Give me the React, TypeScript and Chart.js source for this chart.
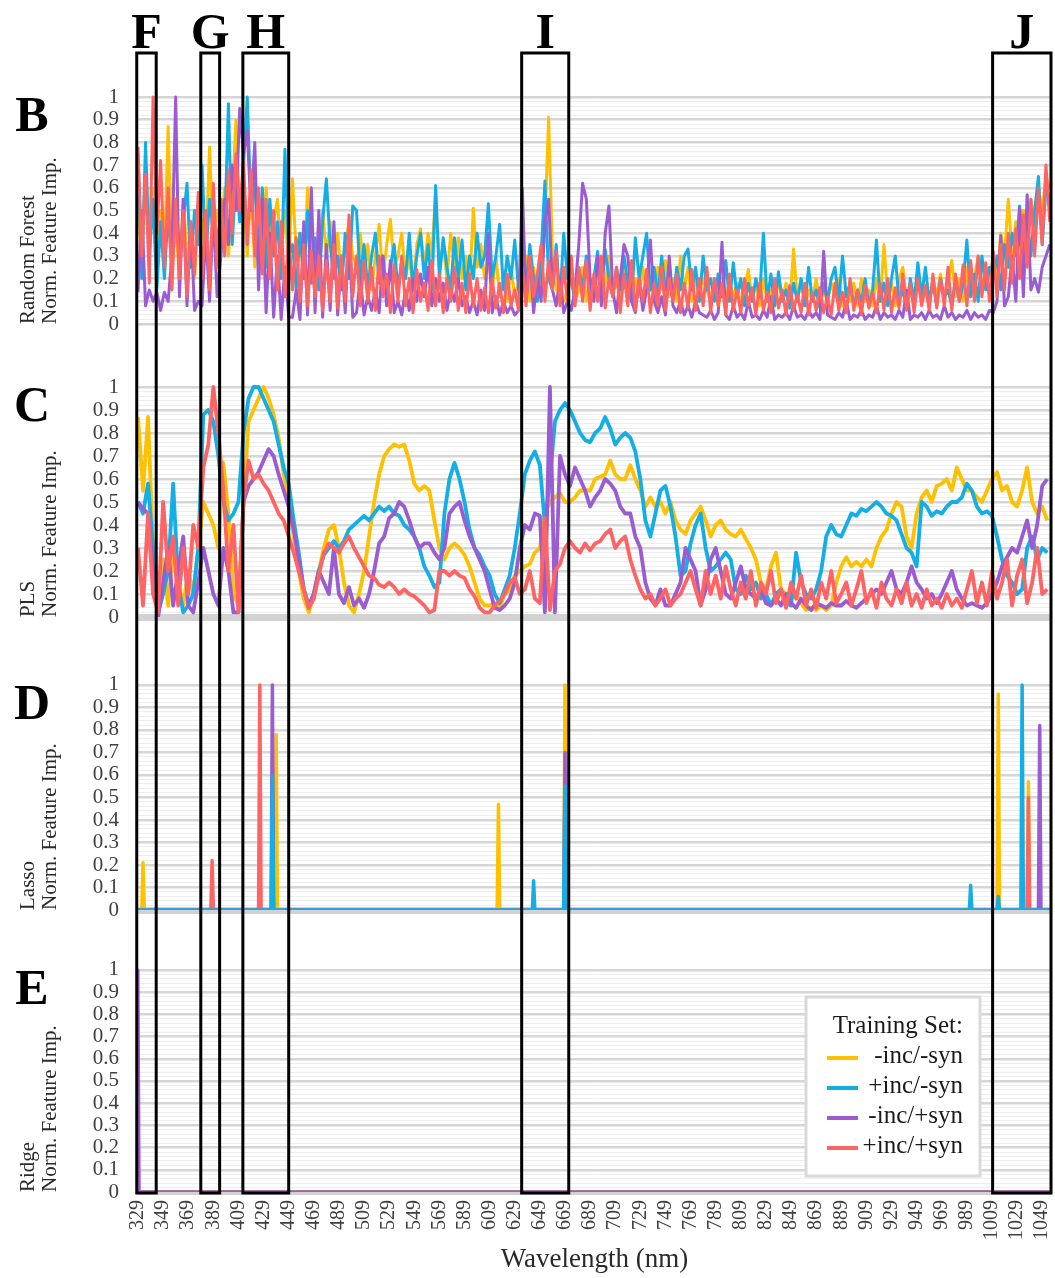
import React, { useEffect, useRef } from 'react';
import { Chart, registerables } from 'chart.js';

Chart.register(...registerables);

const FONT = "'Liberation Serif', 'Times New Roman', Times, serif";

// ---------- labels / categories ----------
const SERIES_NAMES = ['-inc/-syn', '+inc/-syn', '-inc/+syn', '+inc/+syn'];
const SERIES_COLORS = ['#FFC000', '#14AEE6', '#9B5BD1', '#FF6464'];
const X_MIN = 329;
const X_MAX = 1056;
const X_TICKS = [329, 349, 369, 389, 409, 429, 449, 469, 489, 509, 529, 549, 569, 589, 609, 629, 649, 669, 689, 709, 729, 749, 769, 789, 809, 829, 849, 869, 889, 909, 929, 949, 969, 989, 1009, 1029, 1049];
const X_TITLE = 'Wavelength (nm)';
const PANEL_LETTERS = ['B', 'C', 'D', 'E'];
const PANEL_METHODS = ['Random Forest', 'PLS', 'Lasso', 'Ridge'];
const PANEL_AXIS_TITLE = 'Norm. Feature Imp.';
const LEGEND_TITLE = 'Training Set:';
const REGION_LABELS = ['F', 'G', 'H', 'I', 'J'];
const REGION_START = [328, 379, 412.5, 634.5, 1009.5];
const REGION_END = [343.5, 394, 449, 672, 1056];

// ---------- Random Forest (sampled every 3 nm from 329) ----------
const RF_START = 329;
const RF_STEP = 3;
const RF_YELLOW = [
  0.55, 0.25, 0.7, 0.35, 0.6, 0.2,
  0.5, 0.3, 0.87, 0.25, 0.45, 0.2, 0.55, 0.3, 0.4, 0.2, 0.5,
  0.45, 0.3, 0.78, 0.35, 0.5,
  0.4, 0.6, 0.3, 0.55, 0.9, 0.5,
  0.55, 0.3, 0.6, 0.25, 0.5, 0.3, 0.6, 0.35, 0.45, 0.55, 0.3, 0.5, 0.25,
  0.64, 0.3, 0.4, 0.2, 0.6, 0.25, 0.35, 0.2, 0.5, 0.3, 0.45, 0.25, 0.4, 0.2, 0.35, 0.45, 0.3,
  0.25, 0.4, 0.2, 0.35, 0.15, 0.3, 0.44, 0.2, 0.35, 0.46, 0.25, 0.3, 0.4, 0.2, 0.3, 0.15, 0.35, 0.42, 0.25, 0.4,
  0.3, 0.58, 0.25, 0.35, 0.2, 0.4, 0.25, 0.38, 0.2, 0.3, 0.15, 0.51, 0.25, 0.35, 0.2, 0.28, 0.15, 0.3, 0.12, 0.2,
  0.1, 0.25, 0.12, 0.18,
  0.15, 0.3, 0.1, 0.25, 0.12, 0.2, 0.45, 0.91, 0.3, 0.15, 0.2, 0.1, 0.15,
  0.2, 0.1, 0.15, 0.25, 0.1, 0.2, 0.12, 0.25, 0.1, 0.18, 0.3, 0.12, 0.2, 0.1, 0.25, 0.15, 0.1, 0.2, 0.12, 0.25,
  0.15, 0.2, 0.1, 0.25, 0.15, 0.28, 0.12, 0.2, 0.1, 0.3, 0.15, 0.25, 0.1, 0.2, 0.12, 0.2,
  0.15, 0.1, 0.2, 0.08, 0.15, 0.1, 0.2, 0.12, 0.18, 0.08, 0.15, 0.24, 0.1, 0.18, 0.08, 0.2, 0.1, 0.15, 0.08, 0.2,
  0.1, 0.18, 0.08, 0.33, 0.1, 0.2, 0.08, 0.15, 0.1, 0.2, 0.08, 0.15, 0.1, 0.18, 0.12, 0.2, 0.08, 0.15, 0.1, 0.18,
  0.08, 0.2, 0.1, 0.15, 0.08, 0.2, 0.1, 0.35, 0.12, 0.18, 0.08, 0.2, 0.25, 0.1, 0.15, 0.08, 0.2, 0.1, 0.15, 0.08,
  0.2, 0.12, 0.22, 0.1, 0.18, 0.28, 0.12, 0.2, 0.1, 0.25, 0.12, 0.2, 0.3, 0.15, 0.25, 0.2,
  0.3, 0.2, 0.4, 0.3, 0.55, 0.3, 0.45, 0.35, 0.5, 0.4, 0.55, 0.45, 0.6, 0.5, 0.65, 0.6,
];
const RF_BLUE = [
  0.75, 0.2, 0.8, 0.3, 0.55, 0.15,
  0.45, 0.2, 0.5, 0.25, 0.55, 0.3, 0.45, 0.62, 0.25, 0.5, 0.35,
  0.7, 0.3, 0.55, 0.4, 0.35,
  0.5, 0.4, 0.97, 0.35, 0.65, 0.45,
  0.7, 1.0, 0.5, 0.62, 0.3, 0.6, 0.25, 0.55, 0.3, 0.45, 0.2, 0.77, 0.3,
  0.35, 0.15, 0.4, 0.2, 0.5, 0.18, 0.38, 0.15, 0.45, 0.64, 0.35, 0.2, 0.3, 0.15, 0.4, 0.2, 0.52,
  0.5, 0.2, 0.35, 0.15, 0.3, 0.4, 0.18, 0.3, 0.12, 0.25, 0.35, 0.15, 0.28, 0.2, 0.4, 0.15, 0.3, 0.4, 0.2, 0.35,
  0.15, 0.61, 0.2, 0.38, 0.25, 0.15, 0.38, 0.2, 0.37, 0.15, 0.3, 0.2, 0.4, 0.25, 0.3, 0.53, 0.2, 0.3, 0.44, 0.15,
  0.3, 0.2, 0.37, 0.15,
  0.3, 0.15, 0.35, 0.2, 0.1, 0.3, 0.63, 0.2, 0.15, 0.35, 0.1, 0.4, 0.2,
  0.2, 0.1, 0.25, 0.15, 0.3, 0.12, 0.2, 0.32, 0.15, 0.33, 0.2, 0.12, 0.25, 0.15, 0.3, 0.18, 0.1, 0.38, 0.2, 0.3,
  0.4, 0.15, 0.25, 0.12, 0.3, 0.15, 0.22, 0.1, 0.25, 0.15, 0.3, 0.33, 0.15, 0.25, 0.1, 0.3,
  0.15, 0.2, 0.1, 0.22, 0.12, 0.28, 0.1, 0.27, 0.12, 0.2, 0.08, 0.18, 0.1, 0.2, 0.12, 0.4, 0.1, 0.22, 0.08, 0.23,
  0.1, 0.15, 0.07, 0.18, 0.1, 0.2, 0.08, 0.25, 0.1, 0.15, 0.07, 0.18, 0.1, 0.2, 0.25, 0.1, 0.3, 0.12, 0.18, 0.08,
  0.15, 0.1, 0.2, 0.08, 0.15, 0.37, 0.1, 0.18, 0.08, 0.2, 0.3, 0.1, 0.15, 0.07, 0.2, 0.1, 0.27, 0.12, 0.25, 0.1,
  0.18, 0.08, 0.2, 0.12, 0.15, 0.08, 0.2, 0.1, 0.18, 0.37, 0.12, 0.22, 0.1, 0.3, 0.15, 0.25,
  0.2, 0.3, 0.15, 0.35, 0.25, 0.4, 0.3, 0.52, 0.28, 0.45, 0.3, 0.5, 0.65, 0.35, 0.6, 0.55,
];
const RF_PURPLE = [
  0.14, 0.5, 0.08, 0.15, 0.1, 0.14,
  0.06, 0.14, 0.1, 0.3, 1.0, 0.12, 0.55, 0.08, 0.45, 0.06, 0.1,
  0.08, 0.4, 0.1, 0.5, 0.12,
  0.3, 0.55, 0.35, 0.7, 0.5, 0.95,
  0.75, 0.85, 0.5, 0.8, 0.15, 0.55, 0.05, 0.4, 0.03, 0.3, 0.02, 0.25, 0.03,
  0.03, 0.15, 0.02, 0.45, 0.04, 0.6, 0.05, 0.5, 0.03, 0.35, 0.06, 0.45, 0.04, 0.3, 0.05, 0.4, 0.03,
  0.05, 0.2, 0.04, 0.12, 0.06, 0.15, 0.05, 0.3, 0.08, 0.28, 0.05, 0.1, 0.04, 0.15, 0.06, 0.2, 0.1, 0.22, 0.12, 0.25,
  0.08, 0.2, 0.1, 0.18, 0.06, 0.15, 0.1, 0.2, 0.08, 0.12, 0.05, 0.1, 0.04, 0.15, 0.06, 0.4, 0.05, 0.12, 0.04, 0.1,
  0.05, 0.08, 0.04, 0.06,
  0.6, 0.1, 0.3, 0.05, 0.2, 0.1, 0.45, 0.55, 0.15, 0.08, 0.2, 0.05, 0.1,
  0.06, 0.15, 0.35, 0.62, 0.55, 0.2, 0.1, 0.3, 0.08, 0.4, 0.52, 0.15, 0.05, 0.2, 0.35, 0.3, 0.1, 0.05, 0.2, 0.06,
  0.15, 0.37, 0.1, 0.05, 0.12, 0.04, 0.3, 0.08, 0.05, 0.1, 0.04, 0.08, 0.03, 0.1, 0.05, 0.04,
  0.03, 0.06, 0.02, 0.05, 0.36, 0.04, 0.02, 0.08, 0.03, 0.05, 0.02, 0.1, 0.03, 0.04, 0.02, 0.06, 0.03, 0.12, 0.02, 0.04,
  0.03, 0.05, 0.02, 0.08, 0.03, 0.04, 0.02, 0.06, 0.03, 0.05, 0.02, 0.32, 0.04, 0.03, 0.02, 0.05, 0.03, 0.1, 0.02, 0.04,
  0.03, 0.06, 0.02, 0.04, 0.03, 0.08, 0.02, 0.05, 0.03, 0.04, 0.02, 0.06, 0.03, 0.15, 0.02, 0.04, 0.03, 0.05, 0.02, 0.06,
  0.03, 0.04, 0.02, 0.08, 0.03, 0.05, 0.02, 0.04, 0.03, 0.06, 0.02, 0.05, 0.03, 0.04, 0.02, 0.06,
  0.05, 0.1, 0.39, 0.08, 0.12, 0.3, 0.1, 0.51, 0.12, 0.57, 0.15, 0.2, 0.14, 0.25, 0.3, 0.35,
];
const RF_RED = [
  0.78, 0.3, 0.66, 0.18, 1.0, 0.4,
  0.72, 0.25, 0.6, 0.15, 0.55, 0.2, 0.5, 0.12, 0.45, 0.22, 0.58,
  0.2, 0.5, 0.15, 0.62, 0.25,
  0.55, 0.3, 0.68, 0.4, 0.75, 0.5,
  0.72, 0.35, 0.68, 0.3, 0.6, 0.22, 0.55, 0.2, 0.5, 0.15, 0.45, 0.12, 0.4,
  0.15, 0.38, 0.1, 0.35, 0.08, 0.32, 0.12, 0.3, 0.06, 0.28, 0.1, 0.35, 0.07, 0.3, 0.1, 0.48, 0.12,
  0.3, 0.08, 0.28, 0.1, 0.25, 0.06, 0.3, 0.12, 0.22, 0.05, 0.26, 0.1, 0.3, 0.08, 0.2, 0.05, 0.24, 0.1, 0.18, 0.06,
  0.28, 0.08, 0.22, 0.05, 0.2, 0.1, 0.25, 0.06, 0.18, 0.05, 0.22, 0.08, 0.2, 0.06, 0.16, 0.05, 0.2, 0.07, 0.18, 0.05,
  0.22, 0.08, 0.15, 0.06,
  0.25, 0.08, 0.3, 0.12, 0.22, 0.35, 0.1, 0.28, 0.15, 0.32, 0.08, 0.25, 0.1,
  0.3, 0.08, 0.25, 0.1, 0.28, 0.06, 0.22, 0.1, 0.3, 0.07, 0.2, 0.12, 0.25, 0.05, 0.22, 0.08, 0.28, 0.06, 0.2, 0.1,
  0.24, 0.05, 0.18, 0.08, 0.25, 0.06, 0.2, 0.1, 0.22, 0.05, 0.18, 0.07, 0.24, 0.06, 0.2, 0.08,
  0.25, 0.05, 0.2, 0.08, 0.18, 0.04, 0.22, 0.06, 0.15, 0.05, 0.2, 0.08, 0.16, 0.04, 0.18, 0.06, 0.14, 0.05, 0.2, 0.07,
  0.15, 0.04, 0.17, 0.06, 0.13, 0.05, 0.18, 0.04, 0.14, 0.06, 0.16, 0.05, 0.12, 0.04, 0.18, 0.06, 0.14, 0.05, 0.2, 0.06,
  0.15, 0.04, 0.17, 0.07, 0.14, 0.05, 0.18, 0.06, 0.2, 0.05, 0.16, 0.07, 0.22, 0.06, 0.18, 0.05, 0.2, 0.08, 0.17, 0.06,
  0.22, 0.07, 0.2, 0.08, 0.25, 0.06, 0.22, 0.1, 0.26, 0.08, 0.28, 0.1, 0.3, 0.12, 0.27, 0.1,
  0.32, 0.12, 0.35, 0.15, 0.4, 0.18, 0.42, 0.2, 0.48, 0.25, 0.55, 0.3, 0.6, 0.35, 0.7, 0.45,
];

// ---------- PLS (sampled every 4 nm from 329) ----------
const PLS_START = 329;
const PLS_STEP = 4;
const PLS_YELLOW = [
  0.87, 0.55, 0.87, 0.3, 0.12, 0.25, 0.05, 0.3, 0.15, 0.05,
  0.2, 0.1, 0.3, 0.5, 0.45, 0.4, 0.3, 0.67, 0.45, 0.1,
  0.05, 0.5, 0.85, 0.9, 0.95, 1.0, 0.95, 0.88, 0.78, 0.62,
  0.5, 0.35, 0.2, 0.08, 0.02, 0.1, 0.2, 0.3, 0.38, 0.4,
  0.3, 0.15, 0.05, 0.02, 0.1, 0.2, 0.35, 0.5, 0.62, 0.7,
  0.73, 0.75, 0.74, 0.75, 0.68, 0.58, 0.55, 0.57, 0.55, 0.42,
  0.3, 0.25, 0.3, 0.32, 0.3, 0.27, 0.22, 0.15, 0.08, 0.05,
  0.05, 0.06, 0.04, 0.1, 0.12, 0.18, 0.2, 0.22, 0.23, 0.28,
  0.3, 0.45, 0.5, 0.52, 0.54, 0.5, 0.5, 0.52, 0.55, 0.55,
  0.55, 0.6, 0.61, 0.62, 0.68, 0.62, 0.6, 0.6, 0.66, 0.6,
  0.55, 0.48, 0.52, 0.48, 0.5, 0.45, 0.5, 0.42, 0.38, 0.36,
  0.42, 0.45, 0.48, 0.42, 0.35, 0.4, 0.42, 0.38, 0.36, 0.35,
  0.38, 0.34, 0.3, 0.25, 0.15, 0.12, 0.22, 0.28, 0.12, 0.1,
  0.08, 0.1, 0.06, 0.03, 0.04, 0.03, 0.05, 0.03, 0.05, 0.15,
  0.22, 0.26, 0.22, 0.24, 0.22, 0.25, 0.22, 0.3, 0.35, 0.38,
  0.45, 0.5, 0.48, 0.35, 0.3, 0.45, 0.52, 0.55, 0.5, 0.57,
  0.58, 0.6, 0.55, 0.65, 0.6, 0.55, 0.55, 0.52, 0.5, 0.55,
  0.6, 0.63, 0.55, 0.57, 0.5, 0.48, 0.55, 0.65, 0.5, 0.45,
  0.48, 0.42,
];
const PLS_BLUE = [
  0.5, 0.45, 0.58, 0.3, 0.02, 0.1, 0.2, 0.58, 0.15, 0.02,
  0.05, 0.1, 0.3, 0.88, 0.9, 0.85, 0.7, 0.5, 0.42, 0.45,
  0.5, 0.8, 0.95, 1.0, 1.0, 0.95, 0.9, 0.85, 0.75, 0.65,
  0.58, 0.42, 0.28, 0.12, 0.04, 0.1, 0.2, 0.27, 0.3, 0.33,
  0.3, 0.33, 0.38, 0.4, 0.42, 0.44, 0.42, 0.45, 0.48, 0.46,
  0.48, 0.45, 0.44, 0.4, 0.38, 0.35, 0.3, 0.22, 0.18, 0.13,
  0.15, 0.45, 0.6, 0.67, 0.6, 0.5, 0.38, 0.3, 0.27, 0.22,
  0.18, 0.1, 0.06, 0.12, 0.18, 0.3, 0.45, 0.62, 0.68, 0.72,
  0.66, 0.4, 0.6, 0.85, 0.9, 0.93, 0.9, 0.85, 0.8, 0.77,
  0.76, 0.8, 0.82, 0.87, 0.82, 0.75, 0.78, 0.8, 0.78, 0.72,
  0.6, 0.42, 0.35, 0.45, 0.55, 0.57, 0.48, 0.35, 0.18, 0.2,
  0.32, 0.4, 0.45, 0.3, 0.2, 0.22, 0.25, 0.28, 0.25, 0.12,
  0.1, 0.18, 0.12, 0.15, 0.08, 0.1, 0.05, 0.1, 0.12, 0.06,
  0.05, 0.28, 0.15, 0.1, 0.08, 0.12, 0.2, 0.35, 0.4, 0.36,
  0.35, 0.4, 0.45, 0.44, 0.47, 0.46, 0.48, 0.5, 0.48, 0.45,
  0.44, 0.42, 0.36, 0.3, 0.28, 0.22, 0.5, 0.48, 0.44, 0.46,
  0.45, 0.48, 0.5, 0.5, 0.52, 0.58, 0.55, 0.48, 0.45, 0.46,
  0.44, 0.35, 0.25, 0.18, 0.15, 0.1, 0.12, 0.3, 0.35, 0.25,
  0.3, 0.28,
];
const PLS_PURPLE = [
  0.5, 0.47, 0.45, 0.2, 0.0, 0.15, 0.3, 0.05, 0.2, 0.35,
  0.05, 0.02, 0.15, 0.3, 0.2, 0.1, 0.05, 0.3, 0.2, 0.02,
  0.02, 0.5, 0.57, 0.6, 0.63, 0.68, 0.73, 0.7, 0.62, 0.55,
  0.48, 0.38, 0.25, 0.12, 0.05, 0.1, 0.2, 0.15, 0.1, 0.3,
  0.1, 0.06, 0.13, 0.05, 0.08, 0.04, 0.1, 0.2, 0.32, 0.35,
  0.43, 0.45, 0.5, 0.48, 0.42, 0.35, 0.3, 0.32, 0.32, 0.28,
  0.25, 0.3, 0.45, 0.48, 0.5, 0.42, 0.35, 0.3, 0.25, 0.2,
  0.12, 0.04, 0.03, 0.05, 0.08, 0.15, 0.3, 0.4, 0.38, 0.45,
  0.44, 0.02, 1.0, 0.02, 0.7, 0.62, 0.57, 0.65, 0.6, 0.55,
  0.48, 0.52, 0.55, 0.6, 0.58, 0.55, 0.48, 0.45, 0.45, 0.35,
  0.3, 0.15, 0.08, 0.05, 0.12, 0.05, 0.05, 0.1, 0.15, 0.3,
  0.25, 0.2, 0.05, 0.12, 0.25, 0.3, 0.2, 0.1, 0.08, 0.15,
  0.22, 0.12, 0.1, 0.08, 0.12, 0.06, 0.05, 0.08, 0.05, 0.1,
  0.06, 0.04, 0.08, 0.05, 0.03, 0.06, 0.05, 0.04, 0.06, 0.05,
  0.05, 0.07, 0.05, 0.04, 0.06, 0.08, 0.1, 0.12, 0.1, 0.15,
  0.2, 0.12, 0.1, 0.15, 0.22, 0.15, 0.12, 0.08, 0.1, 0.06,
  0.1, 0.15, 0.2, 0.12, 0.08, 0.05, 0.06, 0.05, 0.04, 0.06,
  0.1, 0.15, 0.22, 0.26, 0.3, 0.28, 0.35, 0.42, 0.3, 0.4,
  0.57, 0.6,
];
const PLS_RED = [
  0.3, 0.05, 0.45, 0.1, 0.02, 0.5, 0.2, 0.35, 0.05, 0.3,
  0.1, 0.4, 0.3, 0.65, 0.75, 1.0, 0.8, 0.55, 0.2, 0.4,
  0.02, 0.5, 0.68, 0.6, 0.62, 0.58, 0.55, 0.5, 0.45, 0.42,
  0.35, 0.28, 0.2, 0.12, 0.04, 0.08, 0.18, 0.28, 0.32, 0.3,
  0.28, 0.32, 0.35, 0.3, 0.26, 0.22, 0.18, 0.17, 0.14, 0.13,
  0.15, 0.13, 0.1, 0.12, 0.1, 0.09, 0.07, 0.05, 0.02, 0.03,
  0.2, 0.2, 0.18, 0.2, 0.18, 0.17, 0.12, 0.09, 0.04, 0.02,
  0.02, 0.05, 0.07, 0.1, 0.15, 0.17, 0.1, 0.12, 0.2, 0.08,
  0.06, 0.43, 0.03, 0.2, 0.23, 0.3, 0.33, 0.3, 0.28, 0.32,
  0.29, 0.32, 0.33, 0.36, 0.38, 0.3, 0.33, 0.35, 0.25, 0.18,
  0.12, 0.08, 0.1, 0.05, 0.08, 0.12, 0.05, 0.08, 0.1, 0.15,
  0.2, 0.12, 0.05, 0.2, 0.1, 0.18, 0.08, 0.22, 0.12, 0.05,
  0.15, 0.08, 0.2, 0.05, 0.15, 0.1, 0.2, 0.06, 0.12, 0.04,
  0.15, 0.08, 0.18, 0.05, 0.12, 0.04, 0.15, 0.08, 0.2, 0.06,
  0.1, 0.15, 0.05, 0.12, 0.2, 0.06, 0.12, 0.04, 0.15, 0.08,
  0.05, 0.12, 0.06, 0.15, 0.05, 0.1, 0.04, 0.12, 0.05, 0.08,
  0.04, 0.1, 0.05, 0.08, 0.04, 0.12, 0.2, 0.06, 0.15, 0.05,
  0.2, 0.08, 0.15, 0.25, 0.05, 0.18, 0.25, 0.06, 0.15, 0.3,
  0.1, 0.12,
];

// ---------- Lasso (non-zero wavelengths; all other wavelengths are 0) ----------
const LASSO_YELLOW_WL = [333, 439, 616, 669, 1014, 1038];
const LASSO_YELLOW = [0.21, 0.78, 0.47, 1.0, 0.96, 0.57];
const LASSO_BLUE_WL = [436, 644, 669, 992, 1014, 1033];
const LASSO_BLUE = [0.6, 0.13, 0.55, 0.11, 0.06, 1.0];
const LASSO_PURPLE_WL = [436, 669, 1047];
const LASSO_PURPLE = [1.0, 0.7, 0.82];
const LASSO_RED_WL = [388, 426, 1038];
const LASSO_RED = [0.22, 1.0, 0.5];

// ---------- Ridge (non-zero wavelengths) ----------
const RIDGE_YELLOW_WL: number[] = [];
const RIDGE_YELLOW: number[] = [];
const RIDGE_BLUE_WL: number[] = [];
const RIDGE_BLUE: number[] = [];
const RIDGE_PURPLE_WL = [329];
const RIDGE_PURPLE = [1.0];
const RIDGE_RED_WL: number[] = [];
const RIDGE_RED: number[] = [];

// ---------- helpers ----------
const sampled = (vals: number[], start: number, step: number) =>
  vals.map((v, i) => ({ x: start + step * i, y: v }));

const spikes = (wls: number[], vals: number[]) => {
  const pts: { x: number; y: number }[] = [{ x: X_MIN, y: 0 }];
  wls.forEach((w, i) => {
    if (w > X_MIN) pts.push({ x: w - 1, y: 0 });
    pts.push({ x: w, y: vals[i] });
    pts.push({ x: w + 1, y: 0 });
  });
  pts.push({ x: X_MAX, y: 0 });
  return pts;
};

const GRID_VALUES = Array.from({ length: 51 }, (_, i) => i / 50);

const ds = (label: string, ci: number, data: any[], axis: string, width: number, order: number) => ({
  label,
  data,
  yAxisID: axis,
  borderColor: SERIES_COLORS[ci],
  backgroundColor: SERIES_COLORS[ci],
  borderWidth: width,
  pointRadius: 0,
  tension: 0,
  fill: false,
  borderJoinStyle: 'round',
  order,
});

const yAxis = (max: number, weight: number, method: string, zeroWidth: number) => ({
  type: 'linear',
  position: 'left',
  stack: 'panels',
  stackWeight: weight,
  min: 0,
  max,
  afterBuildTicks: (s: any) => {
    s.ticks = GRID_VALUES.map((v) => ({ value: v }));
  },
  afterFit: (s: any) => {
    s.width = 138;
  },
  ticks: {
    autoSkip: false,
    padding: 19,
    color: '#404040',
    font: { family: FONT, size: 21 },
    callback: (v: number, i: number) => (i % 5 === 0 ? String(Math.round(v * 10) / 10) : ''),
  },
  grid: {
    drawTicks: false,
    color: (c: any) => (c.index === 0 ? '#d2d2d2' : c.index % 5 === 0 ? '#d6d6d6' : '#eeeeee'),
    lineWidth: (c: any) => (c.index === 0 ? zeroWidth : c.index % 5 === 0 ? 2.5 : 1),
  },
  border: { display: false },
  title: {
    display: true,
    text: [method, PANEL_AXIS_TITLE],
    align: 'start',
    color: '#2a2a2a',
    font: { family: FONT, size: 21, lineHeight: 1.05 },
    padding: { top: 17, bottom: 0 },
  },
});

const overlayPlugin = {
  id: 'overlay',
  afterDraw(chart: any) {
    const { ctx, chartArea, scales } = chart;
    const xs = scales.x;
    ctx.save();
    // region boxes + their letters
    ctx.strokeStyle = '#000';
    ctx.fillStyle = '#000';
    ctx.lineWidth = 3;
    ctx.font = `bold 50px ${FONT}`;
    ctx.textAlign = 'center';
    ctx.textBaseline = 'alphabetic';
    REGION_LABELS.forEach((lab, i) => {
      const x0 = xs.getPixelForValue(REGION_START[i]);
      const x1 = Math.min(xs.getPixelForValue(REGION_END[i]), chart.width - 3);
      ctx.strokeRect(x0, chartArea.top, x1 - x0, chartArea.bottom - chartArea.top + 1);
      ctx.fillText(lab, (x0 + x1) / 2, chartArea.top - 5);
    });
    // panel letters
    ['yB', 'yC', 'yD', 'yE'].forEach((id, i) => {
      const s = scales[id];
      ctx.fillText(PANEL_LETTERS[i], 32, s.getPixelForValue(1) + 34);
    });
    // legend
    const lx0 = chartArea.right - 245;
    const lx1 = chartArea.right - 71;
    const ly0 = chartArea.bottom - 195;
    const ly1 = chartArea.bottom - 16;
    ctx.fillStyle = '#ffffff';
    ctx.fillRect(lx0, ly0, lx1 - lx0, ly1 - ly0);
    ctx.strokeStyle = '#d9d9d9';
    ctx.lineWidth = 3;
    ctx.strokeRect(lx0, ly0, lx1 - lx0, ly1 - ly0);
    ctx.font = `25px ${FONT}`;
    ctx.textAlign = 'right';
    ctx.fillStyle = '#1a1a1a';
    ctx.fillText(LEGEND_TITLE, lx1 - 17, ly0 + 36);
    SERIES_NAMES.forEach((name, i) => {
      const by = ly0 + 66 + 30 * i;
      ctx.fillStyle = '#1a1a1a';
      ctx.fillText(name, lx1 - 17, by);
      ctx.strokeStyle = SERIES_COLORS[i];
      ctx.lineWidth = 4;
      ctx.beginPath();
      ctx.moveTo(lx0 + 21, by - 5);
      ctx.lineTo(lx0 + 52, by - 5);
      ctx.stroke();
    });
    ctx.restore();
  },
};

export default function App() {
  const canvasRef = useRef<HTMLCanvasElement | null>(null);

  useEffect(() => {
    if (!canvasRef.current) return;
    const datasets = [
      // Random Forest
      ds(SERIES_NAMES[3], 3, sampled(RF_RED, RF_START, RF_STEP), 'yB', 3, 1),
      ds(SERIES_NAMES[2], 2, sampled(RF_PURPLE, RF_START, RF_STEP), 'yB', 3, 2),
      ds(SERIES_NAMES[1], 1, sampled(RF_BLUE, RF_START, RF_STEP), 'yB', 3, 3),
      ds(SERIES_NAMES[0], 0, sampled(RF_YELLOW, RF_START, RF_STEP), 'yB', 3, 4),
      // PLS
      ds(SERIES_NAMES[3], 3, sampled(PLS_RED, PLS_START, PLS_STEP), 'yC', 3.8, 1),
      ds(SERIES_NAMES[2], 2, sampled(PLS_PURPLE, PLS_START, PLS_STEP), 'yC', 3.8, 2),
      ds(SERIES_NAMES[1], 1, sampled(PLS_BLUE, PLS_START, PLS_STEP), 'yC', 3.8, 3),
      ds(SERIES_NAMES[0], 0, sampled(PLS_YELLOW, PLS_START, PLS_STEP), 'yC', 3.8, 4),
      // Lasso
      ds(SERIES_NAMES[1], 1, spikes(LASSO_BLUE_WL, LASSO_BLUE), 'yD', 3.5, 1),
      ds(SERIES_NAMES[2], 2, spikes(LASSO_PURPLE_WL, LASSO_PURPLE), 'yD', 3.5, 2),
      ds(SERIES_NAMES[3], 3, spikes(LASSO_RED_WL, LASSO_RED), 'yD', 3.5, 3),
      ds(SERIES_NAMES[0], 0, spikes(LASSO_YELLOW_WL, LASSO_YELLOW), 'yD', 3.5, 4),
      // Ridge
      ds(SERIES_NAMES[2], 2, spikes(RIDGE_PURPLE_WL, RIDGE_PURPLE), 'yE', 3, 1),
      ds(SERIES_NAMES[3], 3, spikes(RIDGE_RED_WL, RIDGE_RED), 'yE', 3, 2),
      ds(SERIES_NAMES[1], 1, spikes(RIDGE_BLUE_WL, RIDGE_BLUE), 'yE', 3, 3),
      ds(SERIES_NAMES[0], 0, spikes(RIDGE_YELLOW_WL, RIDGE_YELLOW), 'yE', 3, 4),
    ];

    const chart = new Chart(canvasRef.current, {
      type: 'line',
      data: { datasets } as any,
      options: {
        responsive: false,
        animation: false,
        events: [],
        devicePixelRatio: 1,
        layout: { padding: { top: 53, right: 4, left: 0, bottom: 0 } },
        plugins: { legend: { display: false }, tooltip: { enabled: false } },
        scales: {
          x: {
            type: 'linear',
            position: 'bottom',
            min: X_MIN,
            max: X_MAX,
            afterBuildTicks: (s: any) => {
              s.ticks = X_TICKS.map((v) => ({ value: v }));
            },
            afterFit: (s: any) => {
              s.height = 86;
              s.paddingLeft = 0;
              s.paddingRight = 0;
            },
            ticks: {
              autoSkip: false,
              minRotation: 90,
              maxRotation: 90,
              padding: 8,
              color: '#404040',
              font: { family: FONT, size: 20 },
              callback: (v: number) => String(v),
            },
            grid: { display: false, drawTicks: false },
            border: { display: false },
            title: {
              display: true,
              text: X_TITLE,
              color: '#2a2a2a',
              font: { family: FONT, size: 27 },
              padding: { top: 0, bottom: 2 },
            },
          },
          yE: yAxis(1.27, 282, PANEL_METHODS[3], 5),
          yD: yAxis(1.302, 293, PANEL_METHODS[2], 7),
          yC: yAxis(1.274, 293, PANEL_METHODS[1], 7),
          yB: yAxis(1.194, 271, PANEL_METHODS[0], 2.5),
        } as any,
      } as any,
      plugins: [overlayPlugin],
    } as any);

    return () => chart.destroy();
  }, []);

  return (
    <div style={{ position: 'absolute', left: 0, top: 0, width: 1055, height: 1278, background: '#ffffff' }}>
      <canvas ref={canvasRef} width={1055} height={1278} style={{ display: 'block' }} />
    </div>
  );
}
